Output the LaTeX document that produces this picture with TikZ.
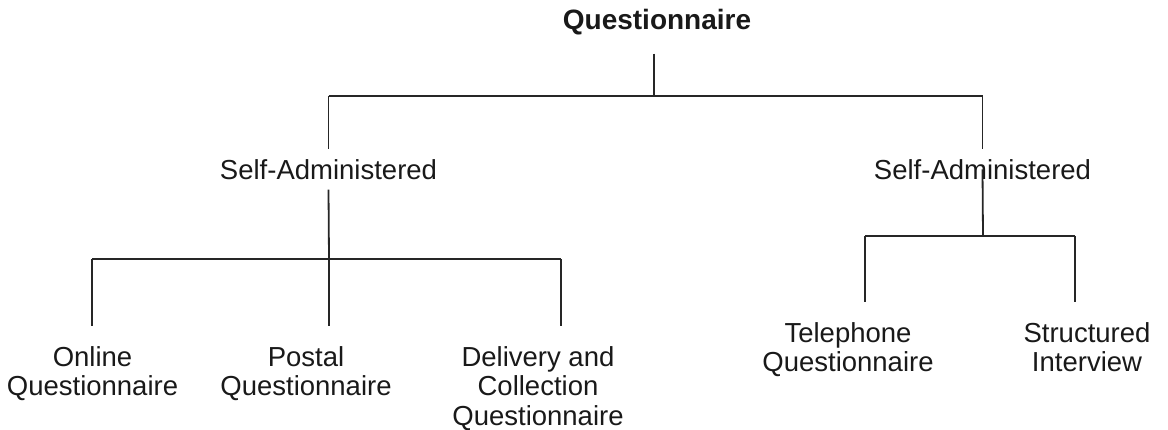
\documentclass[tikz,border=0pt]{standalone}
\usepackage{fontspec}
\setmainfont{Liberation Sans}

\tikzset{
  lbl/.style={font=\fontsize{27.5}{29.5}\selectfont, text=black!90,
    inner xsep=0pt, inner ysep=10pt, align=center},
  leaf/.style={lbl, inner ysep=20pt, anchor=north},
  head/.style={lbl, font=\bfseries\fontsize{28}{30}\selectfont, inner ysep=18pt, anchor=base},
  conn/.style={line width=1.8pt, draw=black!85}
}

\begin{document}
\begin{tikzpicture}[x=1pt, y=-1pt]
      \useasboundingbox (0,0) rectangle (1168,430);

      % labels
      \node[head] (tq) at (657,30) {Questionnaire};
      \node[lbl, anchor=north] (lsa) at (328.5,149) {Self-Administered};
      \node[lbl, anchor=north] (rsa) at (982.5,149) {Self-Administered};

      \node[leaf] (online) at (92.5,326) {Online\\Questionnaire};
      \node[leaf] (postal) at (306,326)  {Postal\\Questionnaire};
      \node[leaf] (deliv)  at (538,326)  {Delivery and\\Collection\\Questionnaire};
      \node[leaf] (tel)    at (848,302)  {Telephone\\Questionnaire};
      \node[leaf] (struct) at (1087,302) {Structured\\Interview};

      % junctions
      \coordinate (tj)  at (654,96);
      \coordinate (lj)  at (329,259);
      \coordinate (lc1) at (92,259);
      \coordinate (lc3) at (561,259);
      \coordinate (rj)  at (983,236);
      \coordinate (rc1) at (865,236);
      \coordinate (rc2) at (1075,236);

      \begin{scope}[every path/.style={conn}]
        \path (tq.south -| tj) edge (tj);
        \path (lsa |- tj) edge (rsa |- tj);
        \path (lsa |- tj) edge (lsa.north);
        \path (rsa |- tj) edge (rsa.north);

        \path (lsa.south) edge (lj);
        \path (lc1) edge (lc3);
        \path (lc1) edge (lc1 |- online.north);
        \path (lj)  edge (lj |- postal.north);
        \path (lc3) edge (lc3 |- deliv.north);

        \path (rsa.center) edge (rj);
        \path (rc1) edge (rc2);
        \path (rc1) edge (rc1 |- tel.north);
        \path (rc2) edge (rc2 |- struct.north);
      \end{scope}

    \end{tikzpicture}
\end{document}
